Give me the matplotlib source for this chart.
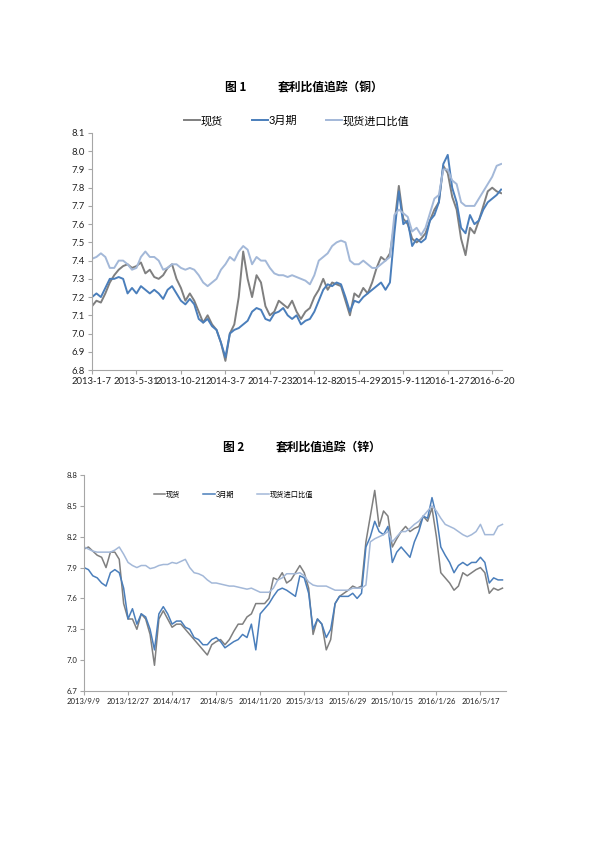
import matplotlib
matplotlib.use("Agg")
from matplotlib import pyplot as plt

plt.rcParams["font.family"] = ["Lato", "Noto Sans CJK SC", "DejaVu Sans"]

SERIES_NAMES = ["现货", "3月期", "现货进口比值"]
COLORS = ["#7f7f7f", "#4a7ebb", "#a3b8d8"]

# ---- figure 1: copper (10 samples between date labels) ----
cu_dates = ["2013-1-7", "2013-5-31", "2013-10-21", "2014-3-7", "2014-7-23",
            "2014-12-8", "2015-4-29", "2015-9-11", "2016-1-27", "2016-6-20"]

cu_spot = [
    7.15, 7.18, 7.17, 7.22, 7.28, 7.32, 7.35, 7.37, 7.38, 7.36,
    7.37, 7.39, 7.33, 7.35, 7.31, 7.30, 7.32, 7.36, 7.38, 7.30,
    7.25, 7.18, 7.22, 7.18, 7.12, 7.06, 7.10, 7.05, 7.02, 6.95,
    6.85, 7.00, 7.05, 7.20, 7.45, 7.30, 7.20, 7.32, 7.28, 7.15,
    7.10, 7.12, 7.18, 7.16, 7.14, 7.18, 7.12, 7.08, 7.12, 7.14,
    7.20, 7.24, 7.30, 7.24, 7.28, 7.27, 7.26, 7.18, 7.10, 7.22,
    7.20, 7.25, 7.22, 7.28, 7.36, 7.42, 7.40, 7.44, 7.60, 7.81,
    7.63, 7.60, 7.52, 7.50, 7.52, 7.55, 7.62, 7.68, 7.72, 7.92,
    7.88, 7.75, 7.68, 7.52, 7.43, 7.58, 7.55, 7.62, 7.70, 7.78,
    7.80, 7.78, 7.77,
]
cu_3m = [
    7.20, 7.22, 7.20, 7.25, 7.30, 7.30, 7.31, 7.30, 7.22, 7.25,
    7.22, 7.26, 7.24, 7.22, 7.24, 7.22, 7.19, 7.24, 7.26, 7.22,
    7.18, 7.16, 7.19, 7.16, 7.08, 7.06, 7.08, 7.04, 7.02, 6.95,
    6.87, 7.00, 7.02, 7.03, 7.05, 7.07, 7.12, 7.14, 7.13, 7.08,
    7.07, 7.11, 7.12, 7.14, 7.10, 7.08, 7.10, 7.05, 7.07, 7.08,
    7.12, 7.18, 7.24, 7.27, 7.26, 7.28, 7.27, 7.20, 7.12, 7.18,
    7.17, 7.20, 7.22, 7.24, 7.26, 7.28, 7.24, 7.28, 7.55, 7.78,
    7.60, 7.62, 7.48, 7.52, 7.50, 7.52, 7.62, 7.65, 7.72, 7.93,
    7.98, 7.80, 7.72, 7.58, 7.55, 7.65, 7.60, 7.62, 7.68, 7.72,
    7.74, 7.76, 7.79,
]
cu_import = [
    7.41, 7.42, 7.44, 7.42, 7.36, 7.36, 7.40, 7.40, 7.38, 7.35,
    7.36, 7.42, 7.45, 7.42, 7.42, 7.40, 7.35, 7.36, 7.38, 7.38,
    7.36, 7.35, 7.36, 7.35, 7.32, 7.28, 7.26, 7.28, 7.30, 7.35,
    7.38, 7.42, 7.40, 7.45, 7.48, 7.46, 7.38, 7.42, 7.40, 7.40,
    7.36, 7.33, 7.32, 7.32, 7.31, 7.32, 7.31, 7.30, 7.29, 7.27,
    7.32, 7.40, 7.42, 7.44, 7.48, 7.50, 7.51, 7.50, 7.40, 7.38,
    7.38, 7.40, 7.38, 7.36, 7.36, 7.38, 7.40, 7.42, 7.65, 7.68,
    7.66, 7.64, 7.56, 7.58, 7.54, 7.58, 7.66, 7.74, 7.76, 7.90,
    7.90, 7.84, 7.82, 7.72, 7.70, 7.70, 7.70, 7.74, 7.78, 7.82,
    7.86, 7.92, 7.93,
]

# ---- figure 2: zinc ----
zn_dates = ["2013/9/9", "2013/12/27", "2014/4/17", "2014/8/5", "2014/11/20",
            "2015/3/13", "2015/6/29", "2015/10/15", "2016/1/26", "2016/5/17"]

zn_spot = [
    8.08, 8.10, 8.06, 8.02, 8.00, 7.90, 8.05, 8.05, 7.98, 7.55,
    7.40, 7.40, 7.30, 7.45, 7.40, 7.25, 6.95, 7.40, 7.48, 7.40,
    7.32, 7.35, 7.35, 7.30, 7.25, 7.20, 7.15, 7.10, 7.05, 7.15,
    7.18, 7.20, 7.15, 7.20, 7.28, 7.35, 7.35, 7.42, 7.45, 7.55,
    7.55, 7.55, 7.60, 7.80, 7.78, 7.85, 7.75, 7.78, 7.85, 7.92,
    7.85, 7.70, 7.25, 7.40, 7.35, 7.10, 7.20, 7.55, 7.62, 7.65,
    7.68, 7.72, 7.70, 7.72, 8.15, 8.40, 8.65, 8.30, 8.45, 8.40,
    8.10, 8.18, 8.25, 8.30, 8.25, 8.28, 8.30, 8.40, 8.35, 8.48,
    8.20, 7.85, 7.80, 7.75, 7.68, 7.72, 7.85, 7.82, 7.85, 7.88,
    7.90, 7.85, 7.65, 7.70, 7.68, 7.70,
]
zn_3m = [
    7.90, 7.88, 7.82, 7.80, 7.75, 7.72, 7.85, 7.88, 7.85, 7.70,
    7.40, 7.50, 7.35, 7.45, 7.42, 7.30, 7.10, 7.45, 7.52, 7.45,
    7.35, 7.38, 7.38, 7.32, 7.30, 7.22, 7.20, 7.15, 7.15, 7.20,
    7.22, 7.18, 7.12, 7.15, 7.18, 7.20, 7.25, 7.22, 7.35, 7.10,
    7.45, 7.50, 7.55, 7.62, 7.68, 7.70, 7.68, 7.65, 7.62, 7.82,
    7.80, 7.65, 7.30, 7.40, 7.35, 7.22, 7.30, 7.55, 7.62, 7.62,
    7.62, 7.65, 7.60, 7.65, 8.10, 8.20, 8.35, 8.25, 8.22, 8.30,
    7.95, 8.05, 8.10, 8.05, 8.00, 8.15, 8.25, 8.40, 8.38, 8.58,
    8.40, 8.10, 8.02, 7.95, 7.85, 7.92, 7.95, 7.92, 7.95, 7.95,
    8.00, 7.95, 7.75, 7.80, 7.78, 7.78,
]
zn_import = [
    8.10, 8.08, 8.06, 8.05, 8.05, 8.05, 8.05, 8.07, 8.10, 8.03,
    7.95, 7.92, 7.90, 7.92, 7.92, 7.89, 7.90, 7.92, 7.93, 7.93,
    7.95, 7.94, 7.96, 7.98, 7.90, 7.85, 7.84, 7.82, 7.78, 7.75,
    7.75, 7.74, 7.73, 7.72, 7.72, 7.71, 7.70, 7.69, 7.70, 7.68,
    7.66, 7.66, 7.66, 7.70, 7.78, 7.80, 7.84, 7.84, 7.84, 7.85,
    7.82, 7.76, 7.73, 7.72, 7.72, 7.72, 7.70, 7.68, 7.68, 7.68,
    7.68, 7.70, 7.70, 7.70, 7.73, 8.15, 8.18, 8.20, 8.22, 8.25,
    8.15, 8.20, 8.25, 8.25, 8.28, 8.32, 8.35, 8.40, 8.45, 8.50,
    8.45, 8.38, 8.32, 8.30, 8.28, 8.25, 8.22, 8.20, 8.22, 8.25,
    8.32, 8.22, 8.22, 8.22, 8.30, 8.32,
]


def style_axes(ax, labelsize):
    for side in ("top", "right"):
        ax.spines[side].set_visible(False)
    for side in ("left", "bottom"):
        ax.spines[side].set_color("#a6a6a6")
        ax.spines[side].set_linewidth(0.8)
    ax.tick_params(axis="both", direction="out", length=3, width=0.8,
                   color="#a6a6a6", labelsize=labelsize, labelcolor="#222222",
                   pad=2)


def draw_chart(ax, series, dates, step, xmax, yticks, lw, labelsize):
    x = list(range(len(series[0])))
    for values, name, color in zip(series, SERIES_NAMES, COLORS):
        ax.plot(x, values, color=color, lw=lw, label=name)
    ax.set_xlim(0, xmax)
    ax.set_xticks([i * step for i in range(len(dates))])
    ax.set_xticklabels(dates)
    ax.set_ylim(yticks[0], yticks[-1])
    ax.set_yticks(yticks)
    ax.set_yticklabels([f"{v:.1f}" for v in yticks])
    style_axes(ax, labelsize)


def main():
    fig = plt.figure(figsize=(5.95, 8.42), dpi=100)

    title_font = dict(fontsize=8.5, fontweight="bold",
                      family=["Noto Sans CJK SC", "DejaVu Sans"], va="center")
    fig.text(225 / 595, 1 - 88 / 842, "图 1", ha="left", **title_font)
    fig.text(278 / 595, 1 - 88 / 842, "套利比值追踪（铜）", ha="left", **title_font)
    fig.text(223 / 595, 1 - 448 / 842, "图 2", ha="left", **title_font)
    fig.text(276 / 595, 1 - 448 / 842, "套利比值追踪（锌）", ha="left", **title_font)

    ax1 = fig.add_axes([92 / 595, 1 - 370 / 842, 410 / 595, 237 / 842])
    cu_ticks = [round(6.8 + 0.1 * i, 1) for i in range(14)]
    draw_chart(ax1, [cu_spot, cu_3m, cu_import], cu_dates, 10, 92.2,
               cu_ticks, 1.4, 6.8)
    ax1.legend(loc="lower center", bbox_to_anchor=(0.5, 1.01), ncol=3,
               frameon=False, fontsize=8, handlelength=1.4, handletextpad=0.1,
               columnspacing=2.6, borderaxespad=0)

    ax2 = fig.add_axes([84 / 595, 1 - 691 / 842, 422 / 595, 216 / 842])
    zn_ticks = [round(6.7 + 0.3 * i, 1) for i in range(8)]
    draw_chart(ax2, [zn_spot, zn_3m, zn_import], zn_dates, 10, 95.8,
               zn_ticks, 1.1, 5.6)
    ax2.legend(loc="center", bbox_to_anchor=(0.354, 0.912), ncol=3,
               frameon=False, fontsize=5.2, handlelength=1.6, handletextpad=0.1,
               columnspacing=3.2, borderaxespad=0)

    fig.savefig("out.png", dpi=100, facecolor="white")


if __name__ == "__main__":
    main()
